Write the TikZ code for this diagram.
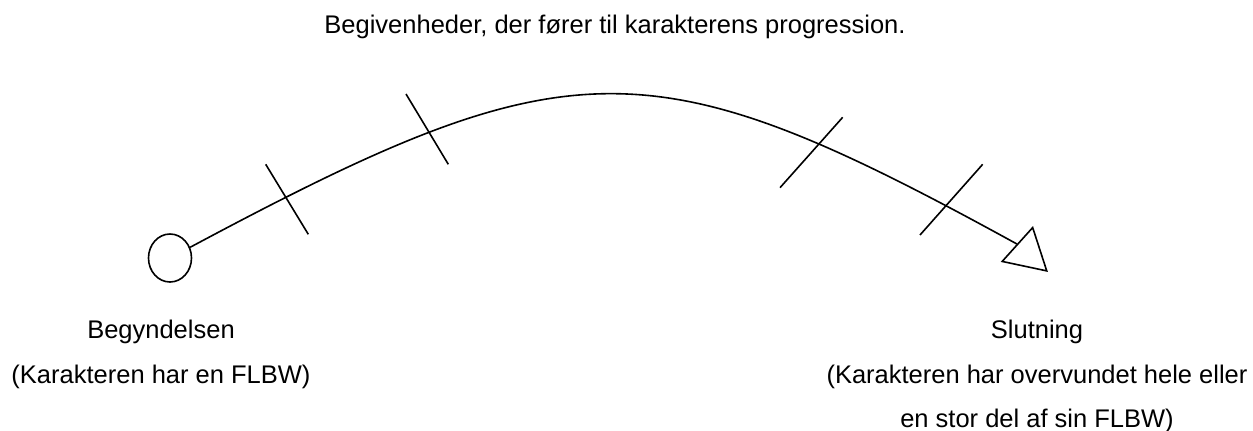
\documentclass[tikz,border=0pt]{standalone}
\usepackage{fontspec}
\setmainfont{Liberation Sans}
\usetikzlibrary{shapes.geometric}
\begin{document}
\begin{tikzpicture}[x=1pt,y=-1pt,
  lbl/.style={anchor=base,inner sep=0pt,font=\fontsize{25.5}{30}\selectfont},
  stroke/.style={line width=1.6pt,black},
  tick/.style={line width=1.6pt,black}]
\useasboundingbox (0,0) rectangle (1253,431);
% title
\node[lbl] (title) at (615,34) {Begivenheder, der fører til karakterens progression.};
% start circle
\node[draw,stroke,ellipse,minimum width=43pt,minimum height=48pt,inner sep=0pt] (start) at (170,258) {};
% end triangle
\node[draw,stroke,regular polygon,regular polygon sides=3,minimum size=52.6pt,inner sep=0pt,rotate=-12] (end) at (1027.2,253.3) {};
% curve
\draw[stroke] (start.28) .. controls (572,43) and (651,43) .. (end.side 1);
% ticks
\coordinate (t1a) at (265.7,164.3); \coordinate (t1b) at (308.3,234.3);
\coordinate (t2a) at (406,94);      \coordinate (t2b) at (448.3,164.3);
\coordinate (t3a) at (842.7,117.3); \coordinate (t3b) at (780,187.7);
\coordinate (t4a) at (982.7,164.3); \coordinate (t4b) at (920,235);
\draw[tick] (t1a) -- (t1b);
\draw[tick] (t2a) -- (t2b);
\draw[tick] (t3a) -- (t3b);
\draw[tick] (t4a) -- (t4b);
% labels
\node[lbl] (beg) at (161,338) {Begyndelsen};
\node[lbl] (begd) at (161,383) {(Karakteren har en FLBW)};
\node[lbl] (slut) at (1037,338) {Slutning};
\node[lbl] (slutd1) at (1037,383) {(Karakteren har overvundet hele eller};
\node[lbl] (slutd2) at (1037,427) {en stor del af sin FLBW)};
\end{tikzpicture}
\end{document}
